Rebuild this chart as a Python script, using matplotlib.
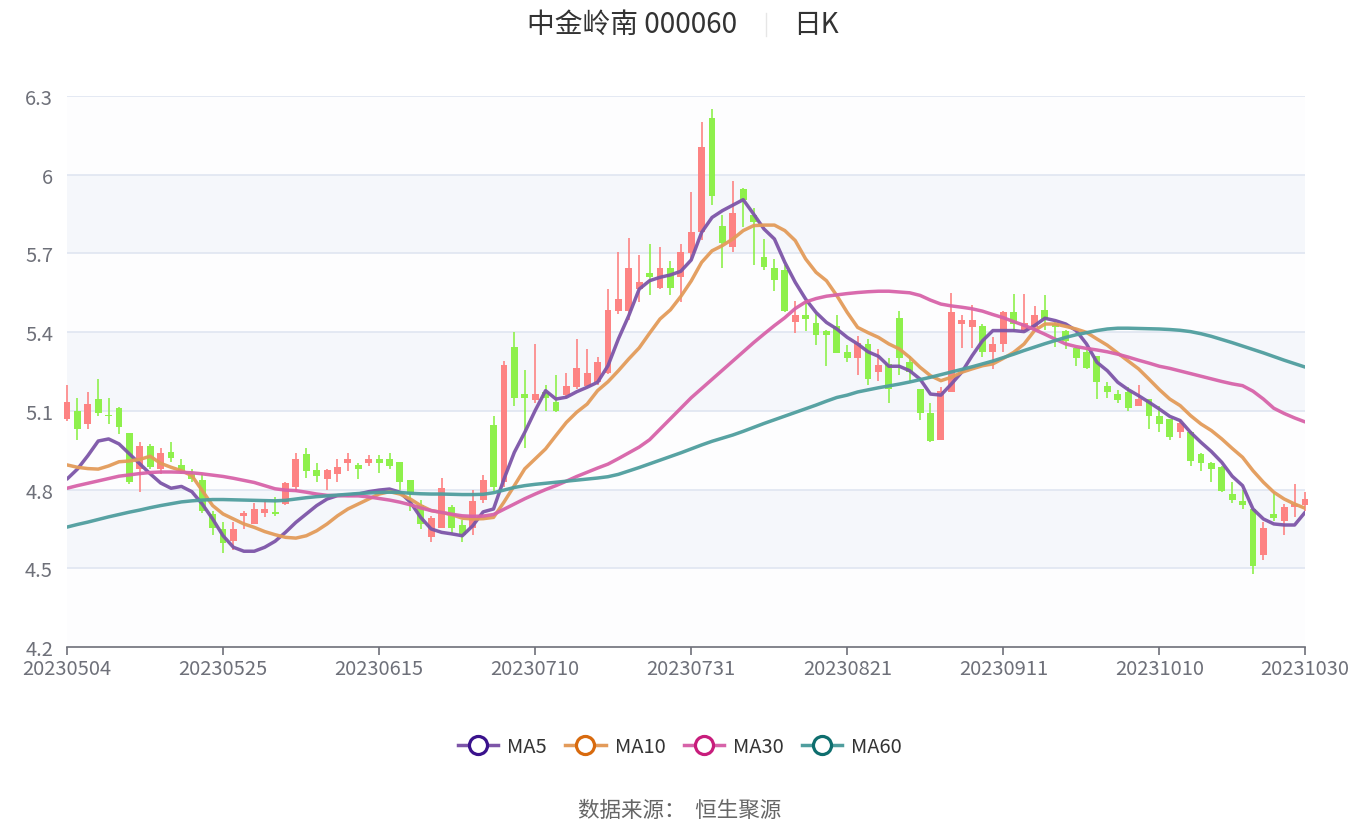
import numpy as np
import matplotlib
matplotlib.use("Agg")
import matplotlib.pyplot as plt
from matplotlib.lines import Line2D

plt.rcParams['font.family'] = ['Noto Sans CJK SC', 'DejaVu Sans']

# 日期（只标注刻度用到的交易日）
n_days = 120
tick_idx = [0, 15, 30, 45, 60, 75, 90, 105, 119]
tick_lab = ["20230504", "20230525", "20230615", "20230710", "20230731",
            "20230821", "20230911", "20231010", "20231030"]

opens = [5.07, 5.10, 5.05, 5.145, 5.085, 5.11, 5.015, 4.88, 4.965, 4.88,
         4.945, 4.895, 4.86, 4.835, 4.705, 4.65, 4.605, 4.70, 4.67, 4.71,
         4.715, 4.745, 4.81, 4.935, 4.875, 4.84, 4.86, 4.90, 4.895, 4.90,
         4.915, 4.915, 4.905, 4.835, 4.74, 4.62, 4.655, 4.735, 4.665, 4.655,
         4.76, 5.045, 4.83, 5.345, 5.165, 5.14, 5.17, 5.135, 5.16, 5.19,
         5.195, 5.21, 5.245, 5.48, 5.48, 5.565, 5.625, 5.57, 5.645, 5.61,
         5.70, 5.78, 6.215, 5.805, 5.725, 5.945, 5.845, 5.685, 5.645, 5.635,
         5.44, 5.465, 5.435, 5.405, 5.425, 5.325, 5.30, 5.355, 5.25, 5.28,
         5.455, 5.285, 5.185, 5.09, 4.99, 5.17, 5.43, 5.42, 5.425, 5.325,
         5.355, 5.475, 5.405, 5.42, 5.485, 5.43, 5.405, 5.34, 5.325, 5.31,
         5.195, 5.165, 5.17, 5.12, 5.145, 5.08, 5.07, 5.02, 5.02, 4.935,
         4.90, 4.885, 4.785, 4.755, 4.725, 4.55, 4.705, 4.68, 4.735, 4.74]
closes = [5.135, 5.03, 5.125, 5.09, 5.08, 5.04, 4.83, 4.965, 4.885, 4.94,
          4.92, 4.87, 4.84, 4.72, 4.655, 4.595, 4.65, 4.71, 4.725, 4.725,
          4.705, 4.825, 4.915, 4.87, 4.85, 4.875, 4.885, 4.915, 4.88, 4.915,
          4.90, 4.89, 4.83, 4.785, 4.67, 4.69, 4.805, 4.655, 4.625, 4.755,
          4.835, 4.81, 5.275, 5.15, 5.15, 5.165, 5.15, 5.10, 5.195, 5.265,
          5.245, 5.285, 5.485, 5.525, 5.645, 5.59, 5.61, 5.645, 5.57, 5.705,
          5.78, 6.105, 5.92, 5.74, 5.855, 5.905, 5.82, 5.65, 5.60, 5.48,
          5.465, 5.45, 5.39, 5.39, 5.32, 5.30, 5.36, 5.22, 5.275, 5.185,
          5.30, 5.25, 5.09, 4.985, 5.175, 5.475, 5.445, 5.445, 5.325, 5.355,
          5.475, 5.43, 5.435, 5.465, 5.45, 5.42, 5.365, 5.30, 5.265, 5.21,
          5.17, 5.14, 5.11, 5.145, 5.08, 5.05, 5.00, 5.055, 4.91, 4.90,
          4.88, 4.795, 4.76, 4.74, 4.51, 4.655, 4.69, 4.735, 4.745, 4.765]
highs = [5.20, 5.15, 5.17, 5.22, 5.15, 5.115, 5.015, 4.98, 4.975, 4.96,
         4.98, 4.915, 4.88, 4.86, 4.72, 4.675, 4.675, 4.72, 4.75, 4.76,
         4.77, 4.83, 4.94, 4.96, 4.90, 4.88, 4.915, 4.94, 4.90, 4.93,
         4.93, 4.94, 4.905, 4.835, 4.76, 4.70, 4.845, 4.74, 4.685, 4.80,
         4.855, 5.08, 5.29, 5.40, 5.255, 5.355, 5.20, 5.235, 5.245, 5.375,
         5.335, 5.305, 5.565, 5.705, 5.76, 5.695, 5.735, 5.725, 5.67, 5.735,
         5.935, 6.20, 6.25, 5.845, 5.975, 5.95, 5.875, 5.755, 5.68, 5.655,
         5.52, 5.515, 5.47, 5.41, 5.465, 5.35, 5.385, 5.375, 5.335, 5.30,
         5.48, 5.31, 5.185, 5.13, 5.19, 5.55, 5.465, 5.505, 5.43, 5.38,
         5.48, 5.545, 5.545, 5.50, 5.54, 5.44, 5.41, 5.345, 5.335, 5.31,
         5.21, 5.18, 5.19, 5.20, 5.145, 5.12, 5.07, 5.065, 5.025, 4.94,
         4.905, 4.89, 4.83, 4.80, 4.725, 4.675, 4.79, 4.745, 4.82, 4.79]
lows = [5.06, 4.99, 5.03, 5.08, 5.05, 5.01, 4.82, 4.79, 4.88, 4.86,
        4.905, 4.86, 4.83, 4.71, 4.625, 4.56, 4.57, 4.65, 4.67, 4.695,
        4.70, 4.74, 4.79, 4.845, 4.83, 4.80, 4.83, 4.87, 4.84, 4.89,
        4.865, 4.88, 4.80, 4.72, 4.65, 4.60, 4.655, 4.635, 4.60, 4.625,
        4.75, 4.795, 4.81, 5.12, 4.96, 5.13, 5.10, 5.095, 5.15, 5.185,
        5.195, 5.20, 5.24, 5.47, 5.445, 5.515, 5.54, 5.565, 5.54, 5.515,
        5.67, 5.75, 5.885, 5.645, 5.705, 5.80, 5.655, 5.635, 5.555, 5.475,
        5.395, 5.405, 5.35, 5.27, 5.32, 5.285, 5.235, 5.20, 5.215, 5.13,
        5.235, 5.215, 5.065, 4.98, 4.99, 5.17, 5.34, 5.34, 5.305, 5.26,
        5.325, 5.40, 5.40, 5.405, 5.41, 5.345, 5.335, 5.27, 5.26, 5.145,
        5.15, 5.13, 5.10, 5.12, 5.03, 5.02, 4.99, 4.995, 4.89, 4.87,
        4.83, 4.79, 4.75, 4.725, 4.48, 4.53, 4.68, 4.625, 4.695, 4.72]

ma5 = [4.84, 4.878, 4.929, 4.985, 4.993, 4.974, 4.936, 4.898, 4.86, 4.825,
       4.805, 4.812, 4.792, 4.745, 4.688, 4.624, 4.58, 4.565, 4.565, 4.58,
       4.603, 4.637, 4.675, 4.707, 4.739, 4.764, 4.777, 4.779, 4.783, 4.792,
       4.798, 4.802, 4.79, 4.752, 4.694, 4.65, 4.637, 4.631, 4.624, 4.662,
       4.715, 4.726, 4.84, 4.942, 5.018, 5.101, 5.177, 5.145, 5.152, 5.173,
       5.19, 5.209, 5.272, 5.374, 5.463, 5.564, 5.596, 5.609, 5.618, 5.632,
       5.675, 5.78, 5.837, 5.863, 5.884, 5.905, 5.85, 5.793, 5.755, 5.666,
       5.59, 5.526, 5.475, 5.437, 5.412, 5.38, 5.355, 5.325, 5.308, 5.27,
       5.27, 5.253, 5.221, 5.164, 5.16, 5.202, 5.247, 5.31, 5.367, 5.406,
       5.406, 5.406, 5.402, 5.425, 5.453, 5.444, 5.431, 5.406, 5.355, 5.285,
       5.253, 5.209, 5.181, 5.158, 5.133, 5.107, 5.079, 5.063, 5.018, 4.98,
       4.945, 4.904, 4.851, 4.815, 4.726, 4.688, 4.669, 4.665, 4.665, 4.713]
ma10 = [4.894, 4.885, 4.88, 4.878, 4.89, 4.906, 4.909, 4.915, 4.927, 4.90,
        4.885, 4.872, 4.853, 4.796, 4.739, 4.707, 4.688, 4.669, 4.656, 4.64,
        4.628, 4.618, 4.615, 4.624, 4.643, 4.669, 4.70, 4.726, 4.745, 4.764,
        4.783, 4.792, 4.783, 4.764, 4.739, 4.72, 4.713, 4.704, 4.691, 4.688,
        4.689, 4.694, 4.752, 4.815, 4.879, 4.917, 4.955, 5.006, 5.056, 5.095,
        5.126, 5.177, 5.211, 5.253, 5.298, 5.34, 5.396, 5.45, 5.485, 5.536,
        5.595, 5.666, 5.71, 5.73, 5.755, 5.787, 5.806, 5.808, 5.808, 5.787,
        5.749, 5.679, 5.628, 5.596, 5.539, 5.475, 5.418, 5.398, 5.38, 5.355,
        5.336, 5.304, 5.266, 5.234, 5.215, 5.228, 5.247, 5.26, 5.272, 5.279,
        5.30, 5.323, 5.355, 5.406, 5.431, 5.431, 5.422, 5.412, 5.399, 5.374,
        5.35, 5.32, 5.29, 5.26, 5.221, 5.181, 5.145, 5.12, 5.082, 5.05,
        5.025, 4.993, 4.957, 4.923, 4.872, 4.828, 4.79, 4.764, 4.745, 4.729]
ma30 = [4.805, 4.815, 4.824, 4.833, 4.842, 4.851, 4.856, 4.861, 4.865, 4.867,
        4.867, 4.866, 4.864, 4.86, 4.855, 4.85, 4.843, 4.835, 4.827, 4.815,
        4.803, 4.798, 4.796, 4.79, 4.783, 4.778, 4.777, 4.776, 4.776, 4.772,
        4.766, 4.76, 4.752, 4.742, 4.73, 4.72, 4.713, 4.706, 4.70, 4.698,
        4.699, 4.705, 4.725, 4.745, 4.765, 4.783, 4.80, 4.815, 4.832, 4.85,
        4.866, 4.882, 4.897, 4.918, 4.94, 4.962, 4.99, 5.03, 5.07, 5.11,
        5.15, 5.185, 5.22, 5.255, 5.29, 5.325, 5.36, 5.393, 5.425, 5.455,
        5.49, 5.515, 5.528, 5.537, 5.542, 5.547, 5.551, 5.554, 5.556, 5.556,
        5.553, 5.55, 5.54, 5.522, 5.507, 5.50, 5.495, 5.489, 5.48, 5.467,
        5.455, 5.44, 5.426, 5.41, 5.392, 5.373, 5.355, 5.345, 5.338, 5.332,
        5.325, 5.316, 5.305, 5.293, 5.282, 5.27, 5.262, 5.252, 5.242, 5.232,
        5.222, 5.212, 5.203, 5.196, 5.175, 5.145, 5.11, 5.09, 5.073, 5.058]
ma60 = [4.657, 4.667, 4.676, 4.686, 4.696, 4.705, 4.714, 4.722, 4.731, 4.739,
        4.746, 4.753, 4.757, 4.76, 4.762, 4.762, 4.761, 4.76, 4.759, 4.758,
        4.757, 4.759, 4.764, 4.769, 4.773, 4.776, 4.779, 4.782, 4.785, 4.787,
        4.789, 4.79, 4.789, 4.786, 4.784, 4.783, 4.783, 4.782, 4.781, 4.781,
        4.782, 4.788, 4.798, 4.808, 4.815, 4.82, 4.824, 4.828, 4.832, 4.836,
        4.84, 4.844, 4.849, 4.858, 4.871, 4.884, 4.898, 4.912, 4.926, 4.94,
        4.955, 4.97, 4.984, 4.996, 5.008, 5.022, 5.037, 5.052, 5.066, 5.08,
        5.094, 5.108, 5.122, 5.137, 5.151, 5.16, 5.172, 5.18, 5.188, 5.195,
        5.202, 5.21, 5.219, 5.228, 5.238, 5.248, 5.258, 5.268, 5.279, 5.29,
        5.303, 5.316, 5.33, 5.343, 5.356, 5.368, 5.38, 5.39, 5.398, 5.406,
        5.412, 5.415, 5.415, 5.414, 5.413, 5.412, 5.41, 5.407, 5.402, 5.394,
        5.384, 5.372, 5.36, 5.347, 5.334, 5.321, 5.307, 5.293, 5.28, 5.267]

y_ticks = [4.2, 4.5, 4.8, 5.1, 5.4, 5.7, 6.0, 6.3]
y_labs = ["4.2", "4.5", "4.8", "5.1", "5.4", "5.7", "6", "6.3"]

ma_names = ["MA5", "MA10", "MA30", "MA60"]
ma_colors = ["#7d55a8", "#e39b5a", "#d763a9", "#4f9e9e"]
ma_dark = ["#3a128c", "#d86a0e", "#c81d7c", "#0e6e6e"]
up_col = "#fd8383"
dn_col = "#8ef04c"

fig = plt.figure(figsize=(13.6, 8.28), dpi=100)
ax = fig.add_axes([67/1360, 1-648/828, (1305-67)/1360, (648-97)/828])

# 背景分区
for k in range(len(y_ticks) - 1):
    c = "#f5f7fb" if k % 2 == 1 else "#fdfdfe"
    ax.axhspan(y_ticks[k], y_ticks[k+1], color=c, zorder=0, lw=0)
for yv in y_ticks[1:]:
    ax.axhline(yv, color="#e0e6f1", lw=1.2, zorder=1)

x = np.arange(n_days)
o = np.array(opens); c = np.array(closes)
h = np.array(highs); l = np.array(lows)
up = c >= o
cols = np.where(up, up_col, dn_col)
ax.vlines(x, l, h, colors=cols, lw=1.2, zorder=2, clip_on=False)
bottom = np.minimum(o, c)
height = np.maximum(np.abs(c - o), 0.006)
ax.bar(x, height, bottom=bottom, width=0.66, color=cols, zorder=3, clip_on=False)

for vals, col in zip([ma5, ma10, ma30, ma60], ma_colors):
    ax.plot(x, vals, color=col, lw=2.5, alpha=0.95, zorder=4,
            solid_capstyle="round", solid_joinstyle="round")

ax.set_xlim(0, n_days - 1)
ax.set_ylim(4.2, 6.3)
ax.set_yticks(y_ticks)
ax.set_yticklabels(y_labs)
ax.set_xticks(tick_idx)
ax.set_xticklabels(tick_lab)
for s in ["top", "right", "left"]:
    ax.spines[s].set_visible(False)
ax.spines["bottom"].set_color("#6e7079")
ax.spines["bottom"].set_linewidth(1.2)
ax.tick_params(axis="y", length=0, pad=10, labelsize=14.5, labelcolor="#6e7079")
ax.tick_params(axis="x", length=6, width=1.2, color="#6e7079", pad=2,
               labelsize=14.5, labelcolor="#6e7079")

# 标题
fig.text(632/1360, 1-25/828, "中金岭南 000060", ha="center", va="center",
         fontsize=20, color="#333333")
fig.add_artist(Line2D([766/1360, 766/1360], [1-14/828, 1-37/828],
                      color="#e6e6e6", lw=1))
fig.text(816/1360, 1-25/828, "日K", ha="center", va="center",
         fontsize=20, color="#333333")

# 图例
handles = [Line2D([0], [0], color=mc, lw=2.5, marker="o", markersize=13,
                  markerfacecolor="white", markeredgecolor=dc, markeredgewidth=2.3)
           for mc, dc in zip(ma_colors, ma_dark)]
fig.legend(handles, ma_names, loc="center", bbox_to_anchor=(0.5, 1-748/828),
           ncol=4, frameon=False, fontsize=14.5, handlelength=2.0,
           handletextpad=0.45, columnspacing=0.9, labelcolor="#333333")

fig.text(0.5, 1-811/828, "数据来源：  恒生聚源", ha="center", va="center",
         fontsize=15.5, color="#666666")

fig.savefig("out.png", dpi=100)
